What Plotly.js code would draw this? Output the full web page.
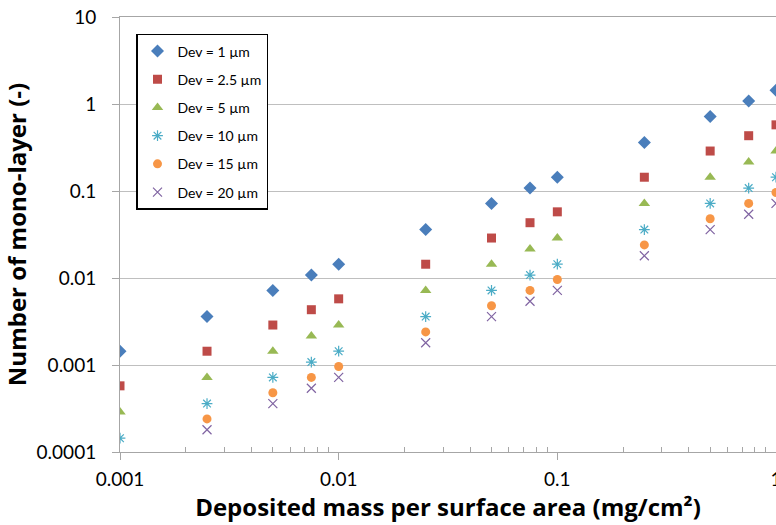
<!DOCTYPE html>
<html>
<head>
<meta charset="utf-8">
<script src="https://cdn.plot.ly/plotly-3.0.1.min.js"></script>
<style>html,body{margin:0;padding:0;background:#fff;}#chart{width:776px;height:525px;}</style>
</head>
<body>
<div id="chart"></div>
<script>
// Deposited mass per surface area (mg/cm²)
const massX = [0.001, 0.0025, 0.005, 0.0075, 0.01, 0.025, 0.05, 0.075, 0.1, 0.25, 0.5, 0.75, 1];
// Number of mono-layer (-) for each Dev
const dev1   = [0.00144, 0.0036, 0.0072, 0.0108, 0.0144, 0.036, 0.072, 0.108, 0.144, 0.36, 0.72, 1.08, 1.44];
const dev2_5 = [0.000576, 0.00144, 0.00288, 0.00432, 0.00576, 0.0144, 0.0288, 0.0432, 0.0576, 0.144, 0.288, 0.432, 0.576];
const dev5   = [0.000288, 0.00072, 0.00144, 0.00216, 0.00288, 0.0072, 0.0144, 0.0216, 0.0288, 0.072, 0.144, 0.216, 0.288];
const dev10  = [0.000144, 0.00036, 0.00072, 0.00108, 0.00144, 0.0036, 0.0072, 0.0108, 0.0144, 0.036, 0.072, 0.108, 0.144];
const dev15  = [0.000096, 0.00024, 0.00048, 0.00072, 0.00096, 0.0024, 0.0048, 0.0072, 0.0096, 0.024, 0.048, 0.072, 0.096];
const dev20  = [0.000072, 0.00018, 0.00036, 0.00054, 0.00072, 0.0018, 0.0036, 0.0054, 0.0072, 0.018, 0.036, 0.054, 0.072];

const seriesNames = ["Dev = 1 µm", "Dev = 2.5 µm", "Dev = 5 µm", "Dev = 10 µm", "Dev = 15 µm", "Dev = 20 µm"];
const seriesValues = [dev1, dev2_5, dev5, dev10, dev15, dev20];

const xTickVals = [0.001, 0.01, 0.1, 1];
const xTickText = ["0.001", "0.01", "0.1", "1"];
const yTickVals = [0.0001, 0.001, 0.01, 0.1, 1, 10];
const yTickText = ["0.0001", "0.001", "0.01", "0.1", "1", "10"];

const styles = [
  {symbol: "diamond", color: "#4A7EBB", size: 10, line: {width: 0}},
  {symbol: "square", color: "#BE4B48", size: 9, line: {width: 0}},
  {symbol: "triangle-up", color: "#98B954", size: 10, line: {width: 0}},
  {symbol: "asterisk-open", color: "#4BACC6", size: 9, line: {width: 1.2, color: "#4BACC6"}},
  {symbol: "circle", color: "#F79646", size: 9, line: {width: 0}},
  {symbol: "x-thin-open", color: "#8064A2", size: 9, line: {width: 1.2, color: "#9A86B8"}}
];

const minorVals = [];
for (let e = -3; e < 0; e++) {
  for (let d = 2; d <= 9; d++) minorVals.push(d * Math.pow(10, e));
}

const Y_MIN = 0.0001, Y_MAX = 10;
// Like the original chart, points outside the value axis range are not drawn.
const traces = seriesValues.map((vals, i) => {
  const xs = [], ys = [];
  vals.forEach((v, k) => { if (v >= Y_MIN && v <= Y_MAX) { xs.push(massX[k]); ys.push(v); } });
  return {
    type: "scatter",
    mode: "markers",
    x: xs,
    y: ys,
    name: seriesNames[i],
    legendgroup: "g" + i,
    marker: styles[i],
    cliponaxis: true
  };
});

const FONT = "Lato, 'Open Sans', sans-serif";
const TFONT = "'Open Sans', Lato, sans-serif";
const lineCol = "#A6A6A6";

const layout = {
  width: 776,
  height: 525,
  margin: {l: 120, r: 0, t: 17, b: 73},
  paper_bgcolor: "#ffffff",
  plot_bgcolor: "#ffffff",
  font: {family: FONT, color: "#000"},
  showlegend: true,
  legend: {
    x: 0.0244, y: 0.961, xanchor: "left", yanchor: "top",
    bgcolor: "#ffffff", bordercolor: "#000000", borderwidth: 1.5,
    font: {family: FONT, size: 14, color: "#000"},
    traceorder: "grouped", tracegroupgap: 7
  },
  xaxis: {
    type: "log", range: [-3, 0],
    tickmode: "array", tickvals: xTickVals, ticktext: xTickText,
    ticks: "outside", ticklen: 7, tickcolor: lineCol, tickwidth: 1,
    showline: true, linecolor: lineCol, linewidth: 1, mirror: true,
    showgrid: false, zeroline: false,
    tickfont: {family: FONT, size: 19, color: "#000"},
    ticklabelstandoff: 3,
    ticklabeloverflow: "allow",
    minor: {tickvals: minorVals, ticks: "inside", ticklen: 5, tickcolor: lineCol, showgrid: false},
    title: {text: "<b>Deposited mass per surface area (mg/cm²)</b>", font: {family: TFONT, size: 24, color: "#000"}, standoff: 3},
    automargin: false
  },
  yaxis: {
    type: "log", range: [-4, 1],
    tickmode: "array", tickvals: yTickVals, ticktext: yTickText,
    ticks: "outside", ticklen: 7, tickcolor: lineCol, tickwidth: 1,
    showline: true, linecolor: lineCol, linewidth: 1, mirror: true,
    showgrid: true, gridcolor: "#BFBFBF", gridwidth: 1, zeroline: false,
    tickfont: {family: FONT, size: 19, color: "#000"},
    ticklabelstandoff: 12,
    title: {text: "<b>Number of mono-layer (-)</b>", font: {family: TFONT, size: 24, color: "#000"}, standoff: 4},
    automargin: false
  }
};

Plotly.newPlot("chart", traces, layout, {displayModeBar: false, staticPlot: true});
</script>
</body>
</html>
